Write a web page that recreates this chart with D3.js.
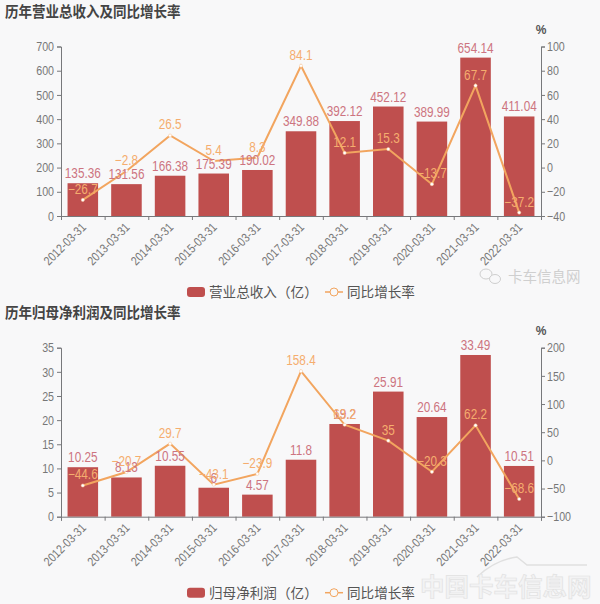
<!DOCTYPE html>
<html>
<head>
<meta charset="utf-8">
<script src="https://cdnjs.cloudflare.com/ajax/libs/d3/7.8.5/d3.min.js"></script>
<style>
html, body { margin: 0; padding: 0; background: #f8f8f9; }
svg { display: block; font-family: "Liberation Sans", "Noto Sans CJK SC", sans-serif; }
</style>
</head>
<body>
<svg id="chart" width="600" height="604"></svg>
<script>
var dates = ["2012-03-31","2013-03-31","2014-03-31","2015-03-31","2016-03-31","2017-03-31","2018-03-31","2019-03-31","2020-03-31","2021-03-31","2022-03-31"];

var revenue = [135.36,131.56,166.38,175.39,190.02,349.88,392.12,452.12,389.99,654.14,411.04];
var revenueGrowth = [-26.7,-2.8,26.5,5.4,8.3,84.1,12.1,15.3,-13.7,67.7,-37.2];
var revenueTicks = [0,100,200,300,400,500,600,700];
var revenueGrowthTicks = [-40,-20,0,20,40,60,80,100];

var profit = [10.25,8.13,10.55,6,4.57,11.8,19.2,25.91,20.64,33.49,10.51];
var profitGrowth = [-44.6,-20.7,29.7,-43.1,-23.9,158.4,63.2,35,-20.3,62.2,-68.6];
var profitTicks = [0,5,10,15,20,25,30,35];
var profitGrowthTicks = [-100,-50,0,50,100,150,200];

var svg = d3.select("#chart");
var minus = function(v){ return String(v).replace(/-/g,"\u2212"); };

// le texte de la reference est un peu ecrase en largeur
function squeeze(sel, k) {
	sel.each(function(){
		var w = this.getComputedTextLength();
		d3.select(this).attr("textLength",w*k).attr("lengthAdjust","spacingAndGlyphs");
	});
}

function drawChart(top, bottom, title, titleY, barName, bars, line, leftTicks, rightTicks) {
	var g = svg.append("g");

	var t = g.append("text").attr("x",5).attr("y",titleY)
		.attr("font-size",15).attr("font-weight","bold").attr("fill","#444")
		.text(title);
	squeeze(t,0.9);

	var x = d3.scaleBand().domain(dates).range([61,541]).paddingInner(0.3).paddingOuter(0.15);
	var xPoint = function(d){ return x(d)+x.bandwidth()/2; };
	var y = d3.scaleLinear().domain(d3.extent(leftTicks)).range([bottom,top]);
	var y2 = d3.scaleLinear().domain(d3.extent(rightTicks)).range([bottom,top]);

	// barres
	g.selectAll(".bar").data(dates).enter().append("rect")
		.attr("class","bar")
		.attr("x",function(d){ return x(d); })
		.attr("width",x.bandwidth())
		.attr("y",function(d,i){ return y(bars[i]); })
		.attr("height",function(d,i){ return bottom-y(bars[i]); })
		.attr("fill","#bf4f4e");

	// axes
	var axisColor = "#77787b";
	var left = g.append("g").attr("transform","translate(61,0)")
		.call(d3.axisLeft(y).tickValues(leftTicks).tickSize(4).tickPadding(3).tickFormat(function(d){ return d; }));
	var right = g.append("g").attr("transform","translate(541,0)")
		.call(d3.axisRight(y2).tickValues(rightTicks).tickSize(4).tickPadding(2).tickFormat(minus));
	var bottomAxis = g.append("g").attr("transform","translate(0,"+bottom+")")
		.call(d3.axisBottom(d3.scalePoint().domain(d3.range(dates.length+1)).range([61,541])).tickSize(4).tickFormat(""));
	[left,right,bottomAxis].forEach(function(a){
		a.selectAll("path,line").attr("stroke",axisColor).attr("stroke-width",1);
		a.selectAll("text").attr("font-size",13).attr("fill","#777").attr("font-family","Liberation Sans");
		squeeze(a.selectAll("text"),0.82);
	});

	var xl = g.selectAll(".xlab").data(dates).enter().append("text")
		.attr("class","xlab")
		.attr("transform",function(d){ return "translate("+(xPoint(d)+4)+","+(bottom+12)+") rotate(-45)"; })
		.attr("text-anchor","end")
		.attr("font-size",12.5).attr("fill","#777")
		.text(function(d){ return d; });
	squeeze(xl,0.84);

	g.append("text").attr("x",541).attr("y",top-13).attr("text-anchor","middle")
		.attr("font-size",12).attr("font-weight","bold").attr("fill","#555")
		.text("%");

	// ligne
	var path = d3.line().x(function(d){ return xPoint(d); }).y(function(d,i){ return y2(line[i]); });
	g.append("path").datum(dates).attr("d",path)
		.attr("fill","none").attr("stroke","#f2a55f").attr("stroke-width",2);
	g.selectAll(".pt").data(dates).enter().append("circle")
		.attr("class","pt")
		.attr("cx",function(d){ return xPoint(d); })
		.attr("cy",function(d,i){ return y2(line[i]); })
		.attr("r",1.6).attr("fill","#fff").attr("stroke","#f7c79a").attr("stroke-width",0.5);

	// etiquettes
	var l1 = g.selectAll(".lab1").data(dates).enter().append("text")
		.attr("class","lab1")
		.attr("x",function(d){ return xPoint(d); })
		.attr("y",function(d,i){ return y(bars[i])-5; })
		.attr("text-anchor","middle").attr("font-size",14).attr("fill","#cd7480")
		.text(function(d,i){ return bars[i]; });
	squeeze(l1,0.84);
	var l2 = g.selectAll(".lab2").data(dates).enter().append("text")
		.attr("class","lab2")
		.attr("x",function(d){ return xPoint(d); })
		.attr("y",function(d,i){ return y2(line[i])-6; })
		.attr("text-anchor","middle").attr("font-size",14).attr("fill","#f5ad6e")
		.text(function(d,i){ return minus(line[i]); });
	squeeze(l2,0.84);

	// legende
	var ly = bottom+76;
	g.append("rect").attr("x",187).attr("y",ly-5).attr("width",18).attr("height",10).attr("rx",3).attr("fill","#bf4f4e");
	g.append("text").attr("x",209).attr("y",ly+5).attr("font-size",13.6).attr("fill","#555")
		.style("font-family","'Noto Sans CJK SC'").style("font-kerning","none").text(barName);
	g.append("line").attr("x1",325).attr("x2",343).attr("y1",ly).attr("y2",ly).attr("stroke","#f2a55f").attr("stroke-width",1.5);
	g.append("circle").attr("cx",334).attr("cy",ly).attr("r",4).attr("fill","#f8f8f9").attr("stroke","#f2a55f").attr("stroke-width",1);
	g.append("text").attr("x",347).attr("y",ly+5).attr("font-size",13.6).attr("fill","#555")
		.style("font-family","'Noto Sans CJK SC'").text("同比增长率");
}

drawChart(46.5,216,"历年营业总收入及同比增长率",17,"营业总收入（亿）",revenue,revenueGrowth,revenueTicks,revenueGrowthTicks);
drawChart(347.7,516.7,"历年归母净利润及同比增长率",318,"归母净利润（亿）",profit,profitGrowth,profitTicks,profitGrowthTicks);

// filigranes
svg.append("text").attr("x",508).attr("y",282).attr("font-size",14.5).attr("fill","#cfcfcf").text("卡车信息网");
svg.append("ellipse").attr("cx",486).attr("cy",274).attr("rx",6).attr("ry",5).attr("fill","none").attr("stroke","#cfcfcf");
svg.append("ellipse").attr("cx",495).attr("cy",279).attr("rx",5.5).attr("ry",4.5).attr("fill","#f8f8f9").attr("stroke","#cfcfcf");

svg.append("path").attr("d","M477 577 Q495 560 517 557 L527 565 L587 565")
	.attr("fill","none").attr("stroke","#e0e0e0").attr("stroke-width",1.5);
svg.append("text").attr("x",420).attr("y",596).attr("font-size",24.5).attr("font-weight","bold")
	.attr("fill","#f3f3f4").attr("stroke","#e2e2e2").attr("stroke-width",0.7)
	.text("中国卡车信息网");
</script>
</body>
</html>
